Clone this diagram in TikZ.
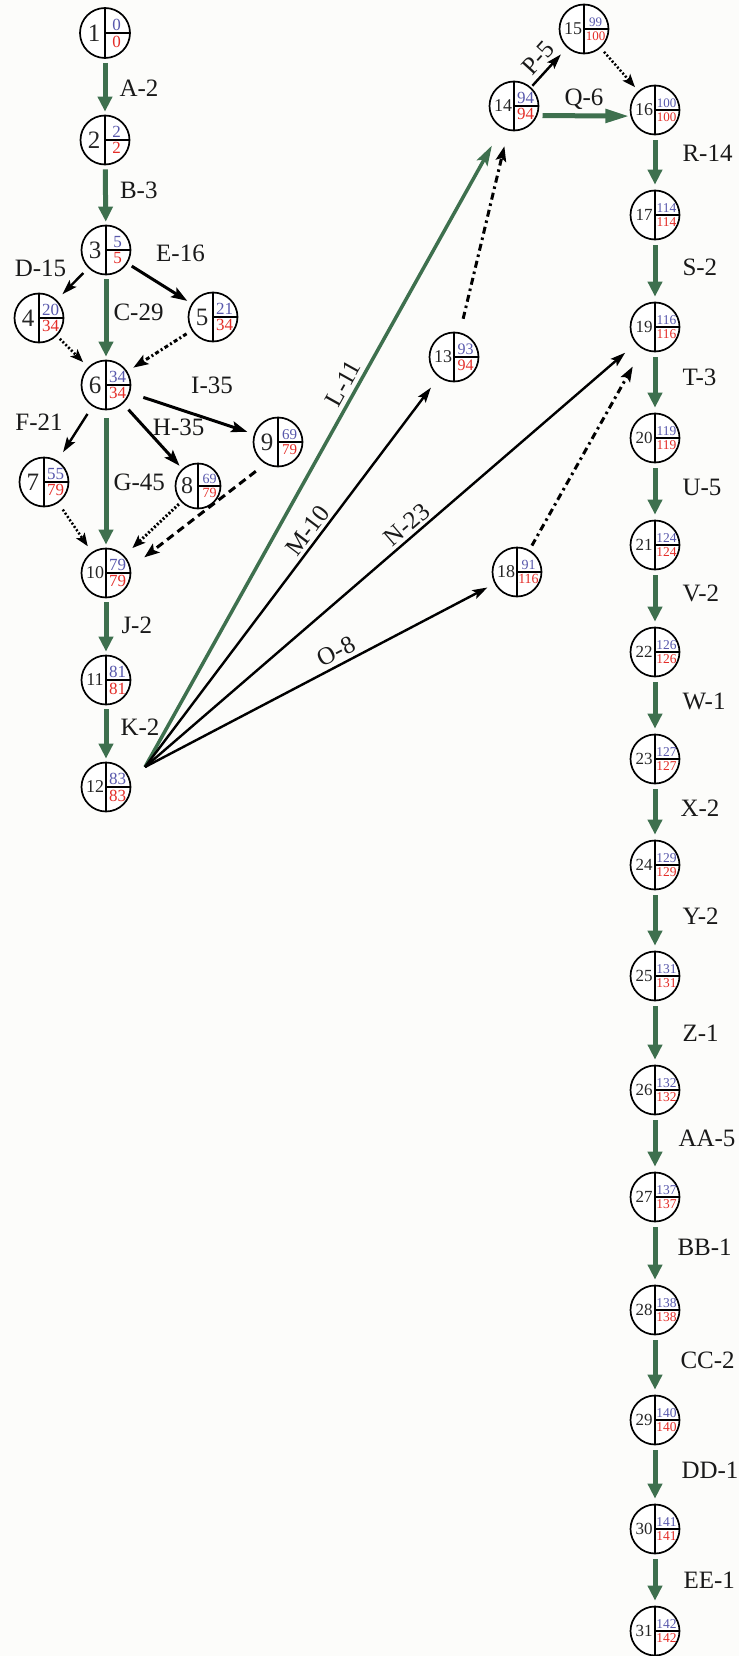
\documentclass[tikz,border=0pt]{standalone}
\usepackage{fontspec}
\setmainfont{Liberation Serif}
\usetikzlibrary{arrows.meta,calc}
\definecolor{cpgreen}{RGB}{62,112,78}
\definecolor{esblue}{RGB}{88,88,172}
\definecolor{lsred}{RGB}{228,45,40}
\definecolor{bgc}{RGB}{252,252,250}
\newcommand{\evnode}[9]{%
  \node[evc, minimum size=#9] (#1) at (#2,#3) {};
  \draw[evline] (#1.north) -- (#1.south) (#1.center) -- (#1.east);
  \node[numtxt, font=\fontsize{#7}{#7}\selectfont] at ([xshift=-11pt]#1.center) {#4};
  \node[estxt, font=\fontsize{#8}{#8}\selectfont] at ([xshift=11.5pt,yshift=2.5pt]#1.center) {#5};
  \node[lstxt, font=\fontsize{#8}{#8}\selectfont] at ([xshift=11.5pt,yshift=-2.5pt]#1.center) {#6};
}
\tikzset{
  evc/.style={circle, draw=black, line width=1.7pt, inner sep=0pt, fill=white},
  evline/.style={line width=1.5pt},
  numtxt/.style={inner sep=0pt, anchor=center, text=black!85},
  estxt/.style={inner sep=0pt, anchor=south, text=esblue},
  lstxt/.style={inner sep=0pt, anchor=north, text=lsred},
  lbl/.style={font=\fontsize{25}{25}\selectfont, inner sep=1pt, text=black!90},
  crit/.style={draw=cpgreen, line width=5pt, -{Triangle[length=15pt,width=14pt]}, shorten <=4pt, shorten >=3pt},
  act/.style={draw=black, line width=2.4pt, -{Stealth[length=15pt,width=9.5pt,inset=3pt]}},
  actb/.style={draw=black, line width=3pt, -{Stealth[length=16pt,width=11pt,inset=3pt]}},
  dumdot/.style={draw=black, line width=2.5pt, dash pattern=on 2pt off 2pt, -{Stealth[length=13pt,width=10pt,inset=3pt]}},
  dumdd/.style={draw=black, line width=3pt, dash pattern=on 7pt off 4pt on 2.5pt off 4pt, -{Stealth[length=15pt,width=10.5pt,inset=3pt]}},
  dumdash/.style={draw=black, line width=3pt, dash pattern=on 8pt off 5pt, -{Stealth[length=15pt,width=11pt,inset=3pt]}},
}
\begin{document}
\begin{tikzpicture}[x=1pt,y=-1pt]
\fill[bgc] (0,0) rectangle (739,1656);
\useasboundingbox (0,0) rectangle (739,1656);
% left cluster
\evnode{n1}{105}{33}{1}{0}{0}{25}{17}{50pt}
\evnode{n2}{105}{140}{2}{2}{2}{25}{17}{49pt}
\evnode{n3}{106}{250}{3}{5}{5}{25}{17}{49pt}
\evnode{n4}{39}{318}{4}{20}{34}{25}{17}{49pt}
\evnode{n5}{213}{317}{5}{21}{34}{25}{17}{49pt}
\evnode{n6}{106}{385}{6}{34}{34}{25}{17}{49pt}
\evnode{n7}{44}{482}{7}{55}{79}{25}{17}{49pt}
\evnode{n8}{198}{486}{8}{69}{79}{24}{14}{45pt}
\evnode{n9}{278}{442}{9}{69}{79}{25}{15}{49pt}
\evnode{n10}{106}{573}{10}{79}{79}{18}{17}{49pt}
\evnode{n11}{106}{680}{11}{81}{81}{18}{17}{49pt}
\evnode{n12}{106}{787}{12}{83}{83}{18}{17}{49pt}
\evnode{n13}{454}{357}{13}{93}{94}{18}{16}{49pt}
\evnode{n14}{514}{106}{14}{94}{94}{18}{17}{49pt}
\evnode{n15}{584}{29}{15}{99}{100}{18}{13}{49pt}
\evnode{n16}{655}{110}{16}{100}{100}{18}{13}{49pt}
\evnode{n18}{517}{572}{18}{91}{116}{18}{14}{49pt}
\evnode{n17}{655}{215}{17}{114}{114}{17}{13.5}{49pt}
\evnode{n19}{655}{327}{19}{116}{116}{17}{13.5}{49pt}
\evnode{n20}{655}{438}{20}{119}{119}{17}{13.5}{49pt}
\evnode{n21}{655}{545}{21}{124}{124}{17}{13.5}{49pt}
\evnode{n22}{655}{652}{22}{126}{126}{17}{13.5}{49pt}
\evnode{n23}{655}{759}{23}{127}{127}{17}{13.5}{49pt}
\evnode{n24}{655}{865}{24}{129}{129}{17}{13.5}{49pt}
\evnode{n25}{655}{976}{25}{131}{131}{17}{13.5}{49pt}
\evnode{n26}{655}{1090}{26}{132}{132}{17}{13.5}{49pt}
\evnode{n27}{655}{1197}{27}{137}{137}{17}{13.5}{49pt}
\evnode{n28}{655}{1310}{28}{138}{138}{17}{13.5}{49pt}
\evnode{n29}{655}{1420}{29}{140}{140}{17}{13.5}{49pt}
\evnode{n30}{655}{1529}{30}{141}{141}{17}{13.5}{49pt}
\evnode{n31}{655}{1631}{31}{142}{142}{17}{13.5}{49pt}
\coordinate (f12) at (145,767);
% critical path, left column
\draw[crit] (n1) -- (n2) node[lbl, midway, anchor=west, xshift=11pt, yshift=-1.5pt] {A-2};
\draw[crit] (n2) -- (n3) node[lbl, midway, anchor=west, xshift=11pt, yshift=5pt] {B-3};
\draw[crit] (n3) -- (n6) node[lbl, midway, anchor=west, xshift=4pt, yshift=5.5pt] {C-29};
\draw[crit, shorten <=8pt] (n6) -- (n10) node[lbl, midway, anchor=west, xshift=4pt, yshift=-3pt] {G-45};
\draw[crit] (n10) -- (n11) node[lbl, midway, anchor=west, xshift=12pt, yshift=1.5pt] {J-2};
\draw[crit] (n11) -- (n12) node[lbl, midway, anchor=west, xshift=11pt, yshift=6.5pt] {K-2};
% other activities, left cluster
\draw[act, shorten <=7pt, shorten >=8pt] (n3) -- (n4) node[lbl, midway, xshift=-32pt, yshift=16pt] {D-15};
\draw[actb, shorten <=5pt, shorten >=5pt] (n3) -- (n5) node[lbl, midway, xshift=21pt, yshift=30pt] {E-16};
\draw[act, shorten <=9pt, shorten >=10pt] (n6) -- (n7) node[lbl, midway, xshift=-36pt, yshift=11pt] {F-21};
\draw[actb, shorten <=8pt, shorten >=4pt] (n6) -- (n8) node[lbl, midway, xshift=26pt, yshift=9pt] {H-35};
\draw[actb, shorten <=14pt, shorten >=7pt] (n6) -- (n9) node[lbl, midway, xshift=20pt, yshift=28pt] {I-35};
% dummies, left cluster
\draw[dumdot, shorten <=4pt, shorten >=7pt] (n4) -- (n6);
\draw[dumdd, dash pattern=on 4pt off 2.5pt on 2pt off 2.5pt, shorten <=6pt, shorten >=7pt] (n5) -- (n6);
\draw[dumdot, shorten <=8pt, shorten >=7pt] (n7) -- (n10);
\draw[dumdot, line width=3pt, shorten <=3pt, shorten >=11pt] (n8) -- (n10);
\draw[dumdash, shorten <=12pt, shorten >=17pt] (n9.-120) -- (n10.12);
% fan from 12
\draw[crit, line width=3.5pt, -{Stealth[length=20pt,width=12pt,inset=4pt]}, shorten <=0pt, shorten >=20pt] (f12) -- (n14) node[lbl, pos=0.59, sloped, above=3pt] {L-11};
\draw[act, shorten >=13pt] (f12) -- (n13) node[lbl, pos=0.587, sloped, above=2pt] {M-10};
\draw[act, shorten >=14pt] (f12) -- (n19) node[lbl, pos=0.55, sloped, above=2pt] {N-23};
\draw[act, shorten >=8pt] (f12) -- (n18) node[lbl, pos=0.565, sloped, above=3pt] {O-8};
% dummies, right part
\draw[dumdd, shorten <=14pt, shorten >=16pt] (n13) -- (n14);
\draw[dumdd, shorten <=5pt, shorten >=20pt] (n18) -- (n19);
\draw[dumdot, shorten <=5pt, shorten >=5pt] (n15) -- (n16);
% top right
\draw[act, shorten <=2pt, shorten >=9pt] (n14) -- (n15) node[lbl, midway, sloped, above=4pt] {P-5};
\draw[crit, shorten <=5pt, shorten >=1pt, -{Triangle[length=24pt,width=13pt]}] (n14.-22) -- (n16.194) node[lbl, midway, above=3pt] {Q-6};
% critical path, right column
\draw[crit, shorten <=5pt, shorten >=5pt] (n16) -- (n17) node[lbl, midway, anchor=west, xshift=24pt, yshift=9pt] {R-14};
\draw[crit, shorten <=5pt, shorten >=5pt] (n17) -- (n19) node[lbl, midway, anchor=west, xshift=24pt, yshift=4pt] {S-2};
\draw[crit, shorten <=5pt, shorten >=5pt] (n19) -- (n20) node[lbl, midway, anchor=west, xshift=24pt, yshift=5pt] {T-3};
\draw[crit, shorten <=5pt, shorten >=5pt] (n20) -- (n21) node[lbl, midway, anchor=west, xshift=24pt, yshift=4pt] {U-5};
\draw[crit, shorten <=5pt, shorten >=5pt] (n21) -- (n22) node[lbl, midway, anchor=west, xshift=24pt, yshift=5pt] {V-2};
\draw[crit, shorten <=5pt, shorten >=5pt] (n22) -- (n23) node[lbl, midway, anchor=west, xshift=24pt, yshift=4pt] {W-1};
\draw[crit, shorten <=5pt, shorten >=5pt] (n23) -- (n24) node[lbl, midway, anchor=west, xshift=22pt, yshift=4pt] {X-2};
\draw[crit, shorten <=5pt, shorten >=5pt] (n24) -- (n25) node[lbl, midway, anchor=west, xshift=24pt, yshift=4pt] {Y-2};
\draw[crit, shorten <=5pt, shorten >=5pt] (n25) -- (n26) node[lbl, midway, anchor=west, xshift=24pt, yshift=0pt] {Z-1};
\draw[crit, shorten <=5pt, shorten >=5pt] (n26) -- (n27) node[lbl, midway, anchor=west, xshift=20pt, yshift=5pt] {AA-5};
\draw[crit, shorten <=5pt, shorten >=5pt] (n27) -- (n28) node[lbl, midway, anchor=west, xshift=19pt, yshift=6pt] {BB-1};
\draw[crit, shorten <=5pt, shorten >=5pt] (n28) -- (n29) node[lbl, midway, anchor=west, xshift=22pt, yshift=5pt] {CC-2};
\draw[crit, shorten <=5pt, shorten >=5pt] (n29) -- (n30) node[lbl, midway, anchor=west, xshift=23pt, yshift=4pt] {DD-1};
\draw[crit, shorten <=5pt, shorten >=5pt] (n30) -- (n31) node[lbl, midway, anchor=west, xshift=25pt, yshift=0pt] {EE-1};
\end{tikzpicture}
\end{document}
